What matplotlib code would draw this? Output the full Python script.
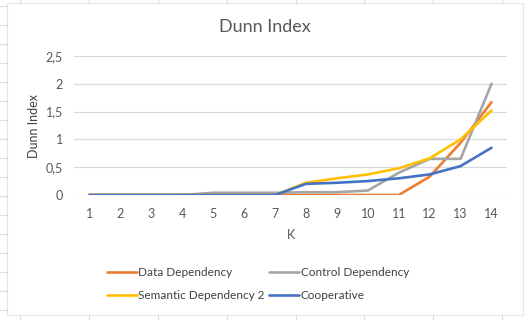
import matplotlib.pyplot as plt
from matplotlib.lines import Line2D

# Dunn index per number of clusters K
k_values = list(range(1, 15))
data_dep = [0, 0, 0, 0, 0, 0, 0, 0, 0, 0, 0, 0.33, 0.94, 1.67]
control_dep = [0, 0, 0, 0, 0.04, 0.04, 0.04, 0.05, 0.05, 0.08, 0.40, 0.65, 0.65, 2.0]
semantic_dep2 = [0, 0, 0, 0, 0, 0, 0, 0.22, 0.30, 0.37, 0.48, 0.66, 1.0, 1.52]
cooperative = [0, 0, 0, 0, 0, 0, 0, 0.20, 0.22, 0.25, 0.30, 0.37, 0.52, 0.85]
y_ticks = [0, 0.5, 1, 1.5, 2, 2.5]
y_tick_labels = ["0", "0,5", "1", "1,5", "2", "2,5"]

W, H = 527, 320
plt.rcParams['font.family'] = ['Lato', 'DejaVu Sans']
fig = plt.figure(figsize=(W / 100, H / 100), dpi=100)
fig.patch.set_facecolor('white')


def fx(px):
    return px / W


def fy(py):
    return 1 - py / H


# spreadsheet cells around the chart object
cell_color = '#dcdcdc'
for x in [20, 89, 158, 227, 296, 364, 433, 502]:
    fig.add_artist(Line2D([fx(x), fx(x)], [fy(0), fy(3)], color=cell_color, lw=0.8))
    fig.add_artist(Line2D([fx(x), fx(x)], [fy(315), fy(320)], color=cell_color, lw=0.8))
for y in range(6, 316, 19):
    fig.add_artist(Line2D([fx(0), fx(7)], [fy(y), fy(y)], color=cell_color, lw=0.8))
# chart border
fig.add_artist(plt.Rectangle((fx(7), fy(315)), fx(516), 312 / H, fill=False,
                             ec='#e4e4e4', lw=0.8))

ax = fig.add_axes([fx(74), fy(195), fx(433), 139 / H])
colors = ['#ED7D31', '#A5A5A5', '#FFC000', '#4472C4']
labels = ['Data Dependency', 'Control Dependency', 'Semantic Dependency 2', 'Cooperative']
series = [data_dep, control_dep, semantic_dep2, cooperative]
handles = []
for vals, c, lab in zip(series, colors, labels):
    h, = ax.plot(k_values, vals, color=c, lw=1.9, label=lab, solid_capstyle='round')
    handles.append(h)

ax.set_xlim(0.5, 14.5)
ax.set_ylim(0, 2.5)
ax.set_xticks(k_values)
ax.set_yticks(y_ticks)
ax.set_yticklabels(y_tick_labels)
ax.tick_params(length=0, labelsize=9, colors='#595959')
ax.tick_params(axis='x', pad=9)
ax.tick_params(axis='y', pad=8)
ax.grid(axis='y', color='#d9d9d9', lw=0.9)
ax.set_axisbelow(True)
for s in ax.spines.values():
    s.set_visible(False)

ax.set_xlabel('K', fontsize=9, color='#595959', labelpad=7)
ax.set_ylabel('Dunn Index', fontsize=9, color='#404040', labelpad=4)
fig.text(fx(265), fy(27), 'Dunn Index', fontsize=13, color='#595959',
         ha='center', va='center')

order = [0, 2, 1, 3]
fig.legend([handles[i] for i in order], [labels[i] for i in order],
           loc='center', bbox_to_anchor=(fx(258), fy(284)), ncol=2, frameon=False,
           fontsize=8.5, handlelength=2.5, handletextpad=0.15, columnspacing=0.4,
           labelspacing=1.0, labelcolor='#404040')

fig.savefig('out.png', dpi=100)
